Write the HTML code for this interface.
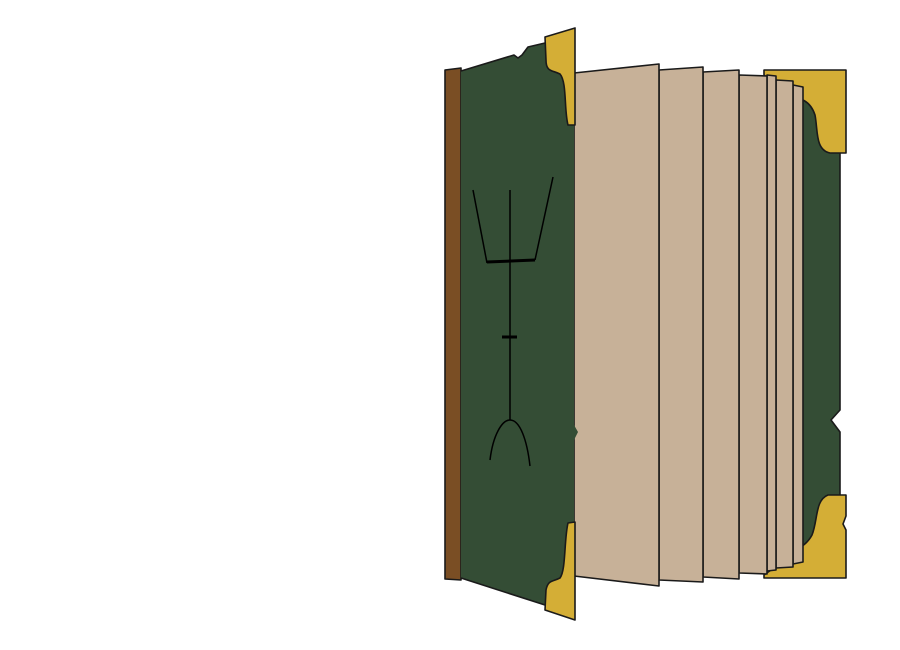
<!DOCTYPE html>
<html><head><meta charset="utf-8"><style>
html,body{margin:0;padding:0;background:#fff;width:900px;height:650px;overflow:hidden}
</style></head><body>
<svg width="900" height="650" viewBox="0 0 900 650" xmlns="http://www.w3.org/2000/svg">
<g stroke="#1a1a1a" stroke-width="1.6" stroke-linejoin="round">
  <path d="M790,88 L840,92 L840,410 L831,420 L840,432 L840,560 L790,560 Z" fill="#344d35"/>
  <path d="M764,70 L846,70 L846,153 L830,153 C815,150 818,130 815,115 C810,100 800,98 790,97 L764,75 Z" fill="#d4ae36"/>
  <path d="M764,578 L846,578 L846,530 L843,524 L846,516 L846,495 L828,495 C815,500 818,520 812,535 C805,548 795,548 785,560 L764,575 Z" fill="#d4ae36"/>
  <path d="M793,85 L803,87 L803,562 L793,564 Z" fill="#c7b198"/>
  <path d="M776,80 L793,81 L793,567 L776,568 Z" fill="#c7b198"/>
  <path d="M767,75 L776,76 L776,570 L767,571 Z" fill="#c7b198"/>
  <path d="M739,75 L767,76 L767,574 L739,573 Z" fill="#c7b198"/>
  <path d="M703,72 L739,70 L739,579 L703,577 Z" fill="#c7b198"/>
  <path d="M659,70 L703,67 L703,582 L659,580 Z" fill="#c7b198"/>
  <path d="M574,73 L659,64 L659,586 L574,576 Z" fill="#c7b198"/>
  <path d="M445,70 L461,68 L461,580 L445,579 Z" fill="#7a4e24"/>
  <path d="M461,71 L514,55 L518,58 L522,55 L528,47 L545,43 L574,34 L574,425 L578,432 L574,440 L574,620 L545,605 L461,578 Z" fill="#344d35" stroke="none"/>
  <path d="M461,71 L514,55 L518,58 L522,55 L528,47 L545,43 L574,34" fill="none"/>
  <path d="M461,578 L545,605" fill="none"/>
  <path d="M545,37 L575,28 L575,125 L568,125 C564,110 567,82 560,74 C552,70 546,72 546,60 Z" fill="#d4ae36"/>
  <path d="M545,610 L575,620 L575,522 L568,523 C564,540 566,570 560,578 C552,582 548,580 546,590 Z" fill="#d4ae36"/>
  <g fill="none" stroke="#000" stroke-width="1.5">
    <line x1="510" y1="190" x2="510" y2="420"/>
    <line x1="473" y1="190" x2="487" y2="263"/>
    <line x1="553" y1="177" x2="535" y2="260"/>
    <line x1="487" y1="262" x2="535" y2="260" stroke-width="3"/>
    <line x1="502" y1="337" x2="517" y2="337" stroke-width="3"/>
    <path d="M490,460 C493,435 502,420 510,420 C520,420 527,440 530,466"/>
  </g>
</g>
</svg>
</body></html>
